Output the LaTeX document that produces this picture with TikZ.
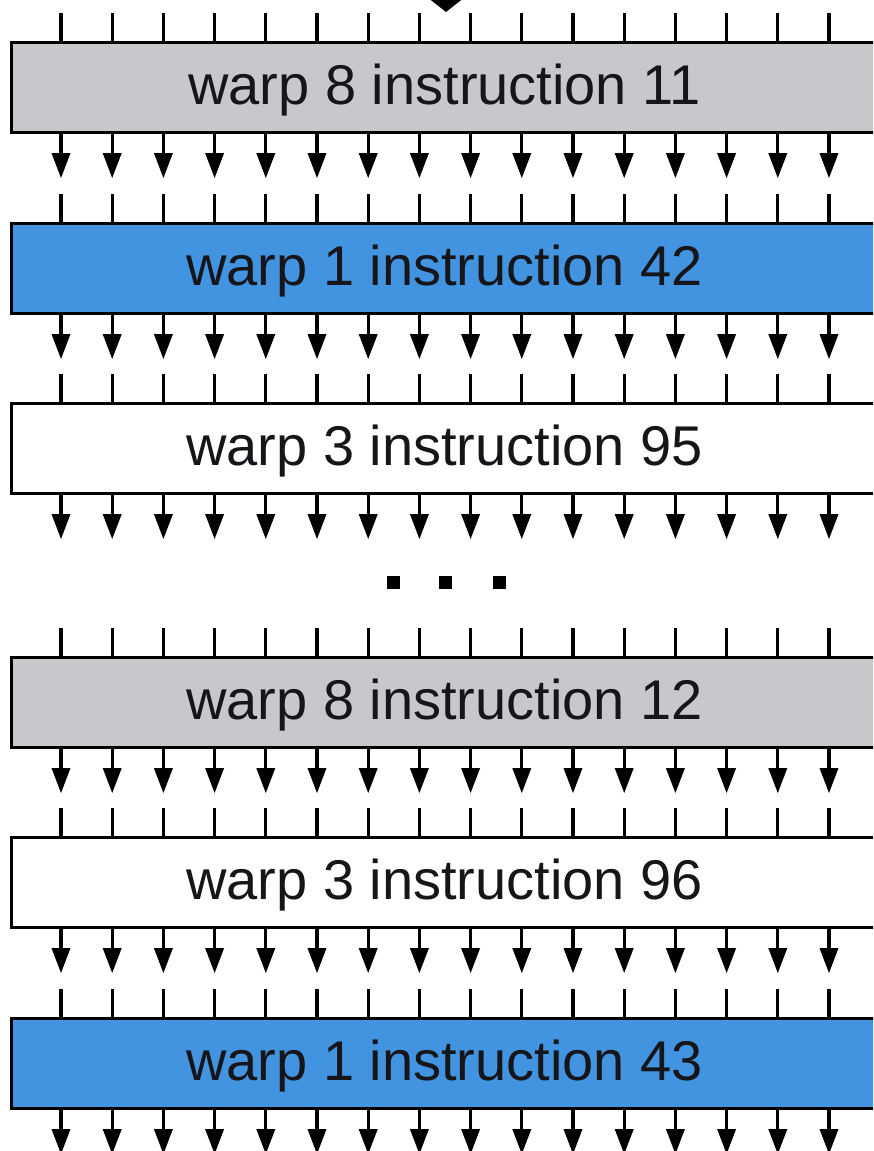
\documentclass[tikz,border=0pt]{standalone}
\usepackage{fontspec}
\setmainfont{Liberation Sans}
\usetikzlibrary{arrows.meta}
\definecolor{warpgray}{RGB}{200,200,204}
\definecolor{warpblue}{RGB}{66,148,224}
\definecolor{inktext}{RGB}{22,22,26}
\tikzset{
  warpbox/.style={draw=black, line width=3.2pt, rectangle, minimum width=866pt, minimum height=90pt,
    inner sep=0pt, anchor=north west, font=\fontsize{56}{60}\selectfont, text=inktext,
    text height=39pt, text depth=5pt},
  lanetick/.style={draw=black, line width=3.2pt},
  lanearrow/.style={draw=black, line width=3.2pt, -{Triangle[length=25pt,width=18pt]}},
  bigarrow/.style={draw=black, line width=3.2pt, -{Triangle[length=16pt,width=40pt]}},
  dotsq/.style={fill=black, minimum size=13pt, inner sep=0pt, rectangle}
}
\begin{document}
\begin{tikzpicture}[x=1pt,y=-1pt]
\useasboundingbox (0,0) rectangle (873,1151);
\fill[white] (0,0) rectangle (873,1151);
\clip (0,0) rectangle (873,1151);

\node[warpbox, fill=warpgray]  (b1) at (10,41)   {warp 8 instruction 11};
\node[warpbox, fill=warpblue]  (b2) at (10,222)  {warp 1 instruction 42};
\node[warpbox, fill=white]     (b3) at (10,402)  {warp 3 instruction 95};
\node[warpbox, fill=warpgray]  (b4) at (10,656)  {warp 8 instruction 12};
\node[warpbox, fill=white]     (b5) at (10,836)  {warp 3 instruction 96};
\node[warpbox, fill=warpblue]  (b6) at (10,1017) {warp 1 instruction 43};

% incoming arrow at top
\coordinate (topin) at (446,-40);
\draw[bigarrow] (topin) -- ([xshift=436pt, yshift=29pt]b1.north west);

\foreach \b in {b1,b2,b3,b4,b5,b6}{
  \foreach \i in {0,...,15}{
    \pgfmathsetmacro{\dx}{51+51.2*\i}
    \draw[lanetick] ([xshift=\dx pt]\b.north west) -- ++(0,-28);
    \draw[lanearrow] ([xshift=\dx pt]\b.south west) -- ++(0,44);
  }
}

\node[dotsq] (d1) at (393,582) {};
\node[dotsq] (d2) at (445,582) {};
\node[dotsq] (d3) at (499,582) {};
\end{tikzpicture}
\end{document}
